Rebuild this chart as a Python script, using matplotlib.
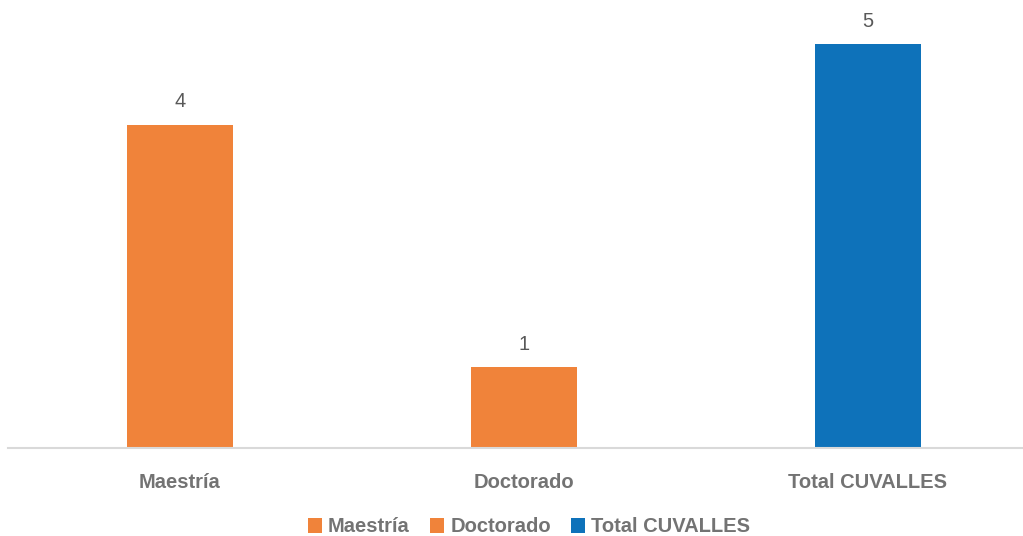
import matplotlib.pyplot as plt
from matplotlib.patches import Patch

categories = ['Maestría', 'Doctorado', 'Total CUVALLES']
values = [4, 1, 5]
colors = ['#F0833A', '#F0833A', '#0E72BA']

plt.rcParams['font.family'] = ['Liberation Sans Narrow', 'Liberation Sans', 'DejaVu Sans']

fig = plt.figure(figsize=(10.23, 5.36), dpi=100)
ax = fig.add_axes([8 / 1023, 88 / 536, 1032 / 1023, 436 / 536])

x = range(len(categories))
bars = ax.bar(x, values, width=0.31, color=colors)
for xi, v in zip(x, values):
    ax.text(xi, v + 0.17, str(v), ha='center', va='bottom', fontsize=14.5, color='#595959')

ax.set_xlim(-0.5, 2.5)
ax.set_ylim(0, 5.4)
ax.set_xticks(list(x))
ax.set_xticklabels(categories, fontsize=14.5, fontweight='bold', color='#737373')
ax.tick_params(axis='x', length=0, pad=18)
ax.set_yticks([])
for s in ['top', 'right', 'left']:
    ax.spines[s].set_visible(False)
ax.spines['bottom'].set_color('#D9D9D9')
ax.spines['bottom'].set_linewidth(1.5)

handles = [Patch(facecolor=c) for c in colors]
leg = fig.legend(handles, categories, loc='center', bbox_to_anchor=(529 / 1023, 1 - 527 / 536),
                 ncol=3, frameon=False, handlelength=0.7, handleheight=0.7, handletextpad=0.3,
                 columnspacing=1.0, prop={'size': 14.5, 'weight': 'bold'})
for t in leg.get_texts():
    t.set_color('#737373')

fig.savefig('out.png', dpi=100)
